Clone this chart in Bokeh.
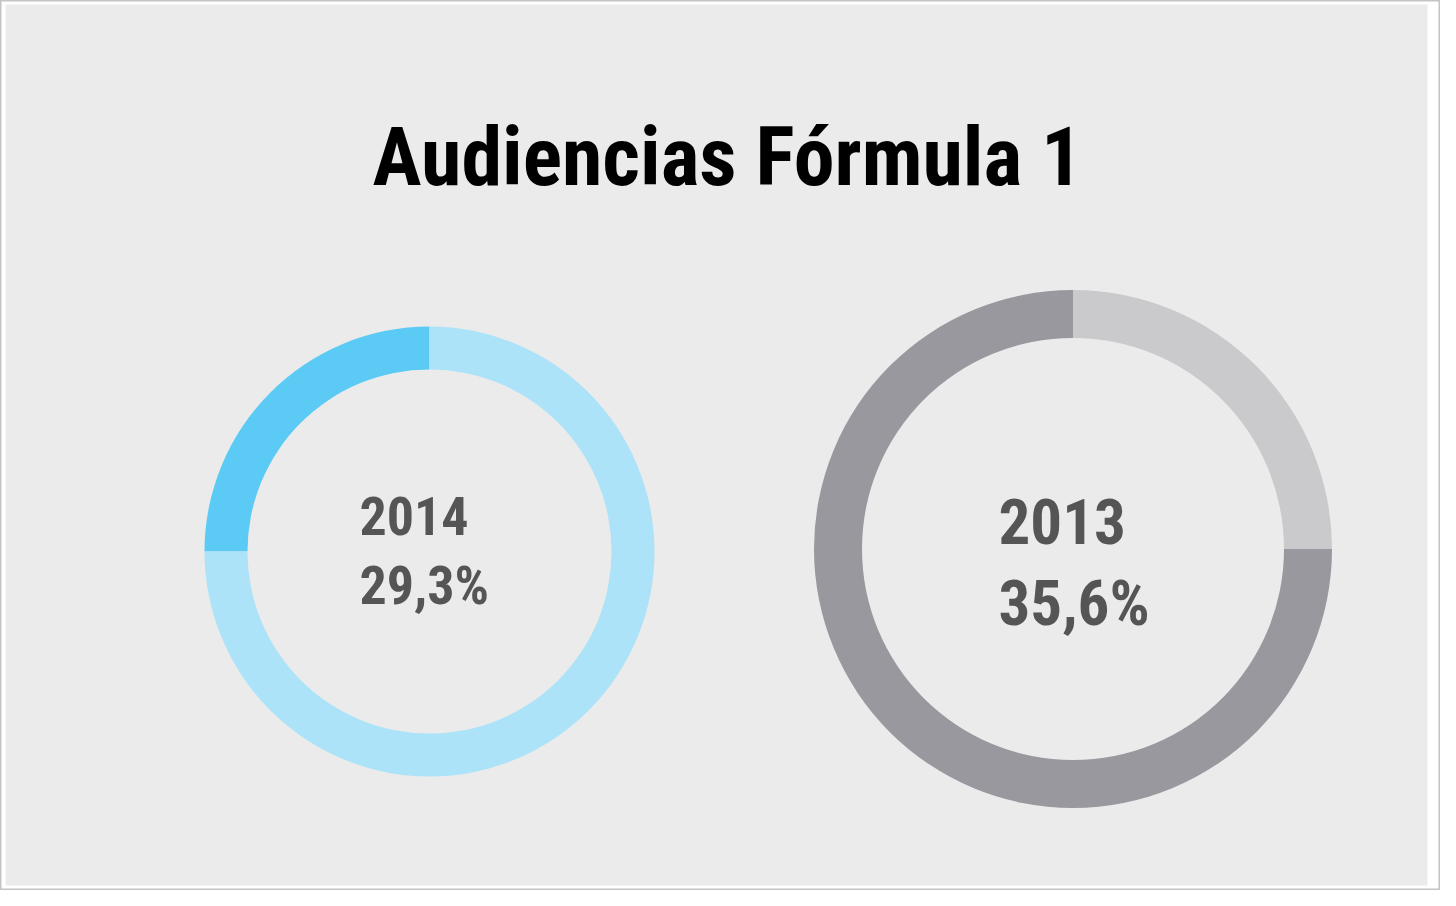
import math
from bokeh.plotting import figure
from bokeh.models import Range1d
from bokeh.core.properties import value
from bokeh.embed import file_html
from bokeh.resources import INLINE

# ---- data ----
title = "Audiencias Fórmula 1"
years = ["2014", "2013"]
labels = ["29,3%", "35,6%"]
# share of the ring drawn as the highlighted segment
drawn_share = [0.25, 0.25]
# 2014: dark segment runs counter-clockwise from top; 2013: light segment clockwise from top
seg_colors_2014 = ["#5bcbf5", "#ade3f8"]
seg_colors_2013 = ["#cacacd", "#98989e"]

W, H = 1440, 890
OX, OY = 8, 8          # page margin offset: data coords == reference pixels
PAGE_H = 906


def Y(y):
    return PAGE_H - y


p = figure(width=W, height=H, x_range=Range1d(OX, OX + W), y_range=Range1d(PAGE_H - OY - H, PAGE_H - OY),
           output_backend="svg", toolbar_location=None, x_axis_type=None, y_axis_type=None,
           min_border=0, background_fill_color="white", border_fill_color="white")
p.grid.visible = False
p.outline_line_color = "#c4c4c4"
p.outline_line_width = 2

# textured panel background
p.quad(left=[13], right=[1435], top=[Y(12)], bottom=[Y(893)], fill_color="#ebebeb", line_color=None)

# ---- 2014 donut ----
cx1, cy1, R1, r1 = 437, Y(559), 225, 182
top = math.pi / 2
a1 = top + 2 * math.pi * drawn_share[0]
p.annular_wedge(x=[cx1, cx1], y=[cy1, cy1], inner_radius=r1, outer_radius=R1,
                start_angle=[top, a1], end_angle=[a1, top + 2 * math.pi],
                fill_color=seg_colors_2014, line_color=None)

# ---- 2013 donut ----
cx2, cy2, R2, r2 = 1080.5, Y(556.5), 259, 211
a2 = top - 2 * math.pi * drawn_share[1]
p.annular_wedge(x=[cx2, cx2], y=[cy2, cy2], inner_radius=r2, outer_radius=R2,
                start_angle=[a2, top], end_angle=[top, a2 + 2 * math.pi],
                fill_color=seg_colors_2013, line_color=None)

font = value("Roboto Condensed")

# title
p.text(x=[735], y=[Y(164)], text=[title], text_font=font, text_font_style="bold",
       text_font_size="82px", text_color="#000000", text_align="center", text_baseline="alphabetic")

# centre labels
p.text(x=[367, 367], y=[Y(523), Y(593)], text=[years[0], labels[0]], text_font=font,
       text_font_style="bold", text_font_size="54px", text_color="#555555",
       text_align="left", text_baseline="alphabetic")
p.text(x=[1006, 1006], y=[Y(529), Y(611)], text=[years[1], labels[1]], text_font=font,
       text_font_style="bold", text_font_size="63px", text_color="#555555",
       text_align="left", text_baseline="alphabetic")

open("out.html", "w").write(file_html(p, INLINE))
